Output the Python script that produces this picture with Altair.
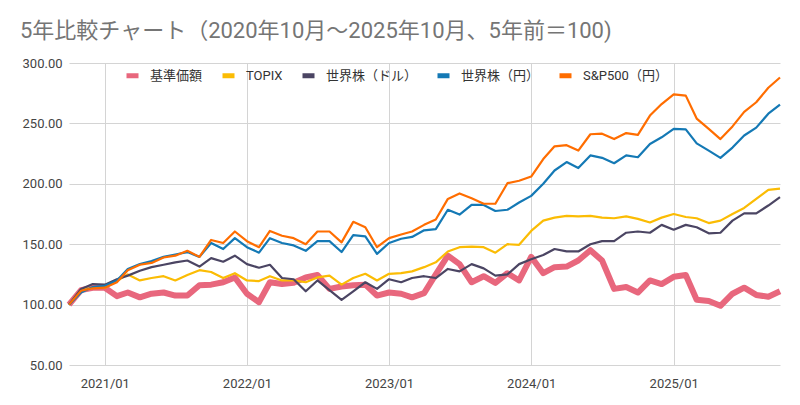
import altair as alt
import pandas as pd

# Monthly points, 2020/10 .. 2025/10 (61 months)
months = pd.date_range("2020-10-01", "2025-10-01", freq="MS").strftime("%Y-%m-%d").tolist()

series_names = ["基準価額", "TOPIX", "世界株（ドル）", "世界株（円）", "S&P500（円）"]
series_colors = ["#E8677D", "#FBBC04", "#4B4563", "#1479B5", "#FF6D00"]

kijun = [100, 112, 114, 114, 107, 110, 106, 109, 110, 107.5,
         107.5, 116, 116.5, 118.5, 122.5, 109, 102, 118.5, 117, 118,
         122.5, 124.5, 113, 115, 116, 116.5, 107.5, 110, 109, 106,
         109.5, 125, 140.5, 133.5, 118.5, 123.5, 118, 126, 120, 139.5,
         126, 131, 131.5, 136.5, 145, 136.5, 113, 114.5, 110, 120,
         117, 123, 124.5, 104, 103, 99, 109, 114, 108, 106.5,
         111]
topix = [100, 112, 114, 114, 119.5, 125, 120, 122, 123.5, 120,
         124.5, 128.5, 127, 122, 126, 120, 119.5, 123.5, 120, 120,
         118.5, 122.5, 124, 116.5, 122, 125.5, 120, 125.5, 126, 127.5,
         131, 135, 144, 147.5, 148, 147.5, 143, 150, 149.5, 161,
         169.5, 172, 173.5, 173, 173.5, 172, 171.5, 173, 171, 168,
         172, 175, 172.5, 171.5, 167.5, 169.5, 175, 180, 187.5, 195,
         196]
world_usd = [100, 113, 117, 116.5, 121, 124, 128, 131, 133, 135,
             136.5, 131.5, 138.5, 135.5, 140.5, 133.5, 130.5, 133, 122, 121,
             111, 120, 112, 104, 111, 118.5, 113, 121, 118.5, 122,
             123.5, 122, 129.5, 127.5, 133.5, 130, 124, 125, 133.5, 137.5,
             141, 146, 144, 144, 150, 152.5, 152.5, 159.5, 160.5, 159.5,
             166, 162, 166, 164, 159, 159.5, 169.5, 175.5, 175.5, 182,
             189]
world_jpy = [100, 110, 114.5, 115.5, 120, 129.5, 133.5, 136, 139.5, 141.5,
             143.5, 139.5, 151, 146, 155, 147.5, 143, 155, 151, 149,
             144.5, 152.5, 152.5, 143.5, 157.5, 156.5, 142, 151, 154.5, 156,
             161.5, 162.5, 178.5, 174.5, 182.5, 182.5, 177.5, 178.5, 184.5, 190,
             200, 211, 218, 213, 223.5, 221.5, 217, 223.5, 222, 233,
             238.5, 245.5, 245, 233.5, 227.5, 221.5, 230, 240, 246.5, 258,
             265.5]
sp500_jpy = [100, 111.5, 113.5, 114, 118.5, 128.5, 133, 134.5, 139, 140.5,
             144.5, 139.5, 153.5, 151, 160.5, 152.5, 147.5, 161, 157, 155,
             150, 160.5, 160.5, 151.5, 168.5, 164, 147.5, 155, 158, 160.5,
             166, 170.5, 187.5, 192, 188, 183.5, 183.5, 200.5, 202.5, 206,
             220.5, 231, 232, 227.5, 241, 241.5, 237, 242, 240.5, 256.5,
             266, 274, 273, 254, 245.5, 237, 247.5, 259.5, 267.5, 279.5,
             288]

year_ticks = ["2021-01-01", "2022-01-01", "2023-01-01", "2024-01-01", "2025-01-01"]
y_ticks = [50, 100, 150, 200, 250, 300]

values = [kijun, topix, world_usd, world_jpy, sp500_jpy]
rows = []
for name, vals in zip(series_names, values):
    for m, v in zip(months, vals):
        rows.append({"date": m, "series": name, "value": v})
df = pd.DataFrame(rows)

FONT = "Roboto, Noto Sans CJK JP, sans-serif"

legend = alt.Legend(
    orient="none", legendX=55, legendY=4, direction="horizontal", title=None,
    symbolType="stroke", symbolStrokeWidth=5, symbolSize=144,
    labelFont=FONT, labelFontSize=13, labelColor="#333333",
    labelOffset=9, columnPadding=9, symbolOpacity=1,
)

x_enc = alt.X(
    "date:T",
    scale=alt.Scale(type="utc", domain=["2020-10-01", "2025-10-01"], nice=False),
    axis=alt.Axis(
        values=year_ticks, labelExpr="utcFormat(datum.value, '%Y/%m')", title=None,
        ticks=False, tickSize=0, domain=False, grid=True,
        labelFont=FONT, labelFontSize=13, labelColor="#444444", labelPadding=12,
        gridColor="#d4d4d4", labelAngle=0,
    ),
)
y_enc = alt.Y(
    "value:Q",
    scale=alt.Scale(domain=[50, 300], nice=False, zero=False),
    axis=alt.Axis(
        values=y_ticks, format=".2f", title=None, ticks=False, tickSize=0,
        domain=False, grid=True, gridColor="#d4d4d4",
        labelFont=FONT, labelFontSize=13, labelColor="#444444", labelPadding=7,
    ),
)
color_enc = alt.Color(
    "series:N",
    scale=alt.Scale(domain=series_names, range=series_colors),
    legend=legend,
)

base = alt.Chart(df)
thick = base.transform_filter(alt.datum.series == "基準価額").mark_line(
    strokeWidth=6, strokeJoin="round"
).encode(x=x_enc, y=y_enc, color=color_enc)
thin = base.transform_filter(alt.datum.series != "基準価額").mark_line(
    strokeWidth=2.2, strokeJoin="round"
).encode(x=x_enc, y=y_enc, color=color_enc)

chart = alt.layer(thick, thin).properties(
    width=711, height=302,
    title=alt.TitleParams(
        "5年比較チャート（2020年10月～2025年10月、5年前＝100)",
        anchor="start", frame="group", font=FONT, fontSize=22, fontWeight="normal",
        color="#757575", dx=-49, offset=14,
    ),
    autosize=alt.AutoSizeParams(type="none"),
    padding={"left": 61, "top": 55, "right": 10, "bottom": 30},
).configure_view(stroke=None)

chart.save("out.html", embed_options={"renderer": "svg", "actions": False})
